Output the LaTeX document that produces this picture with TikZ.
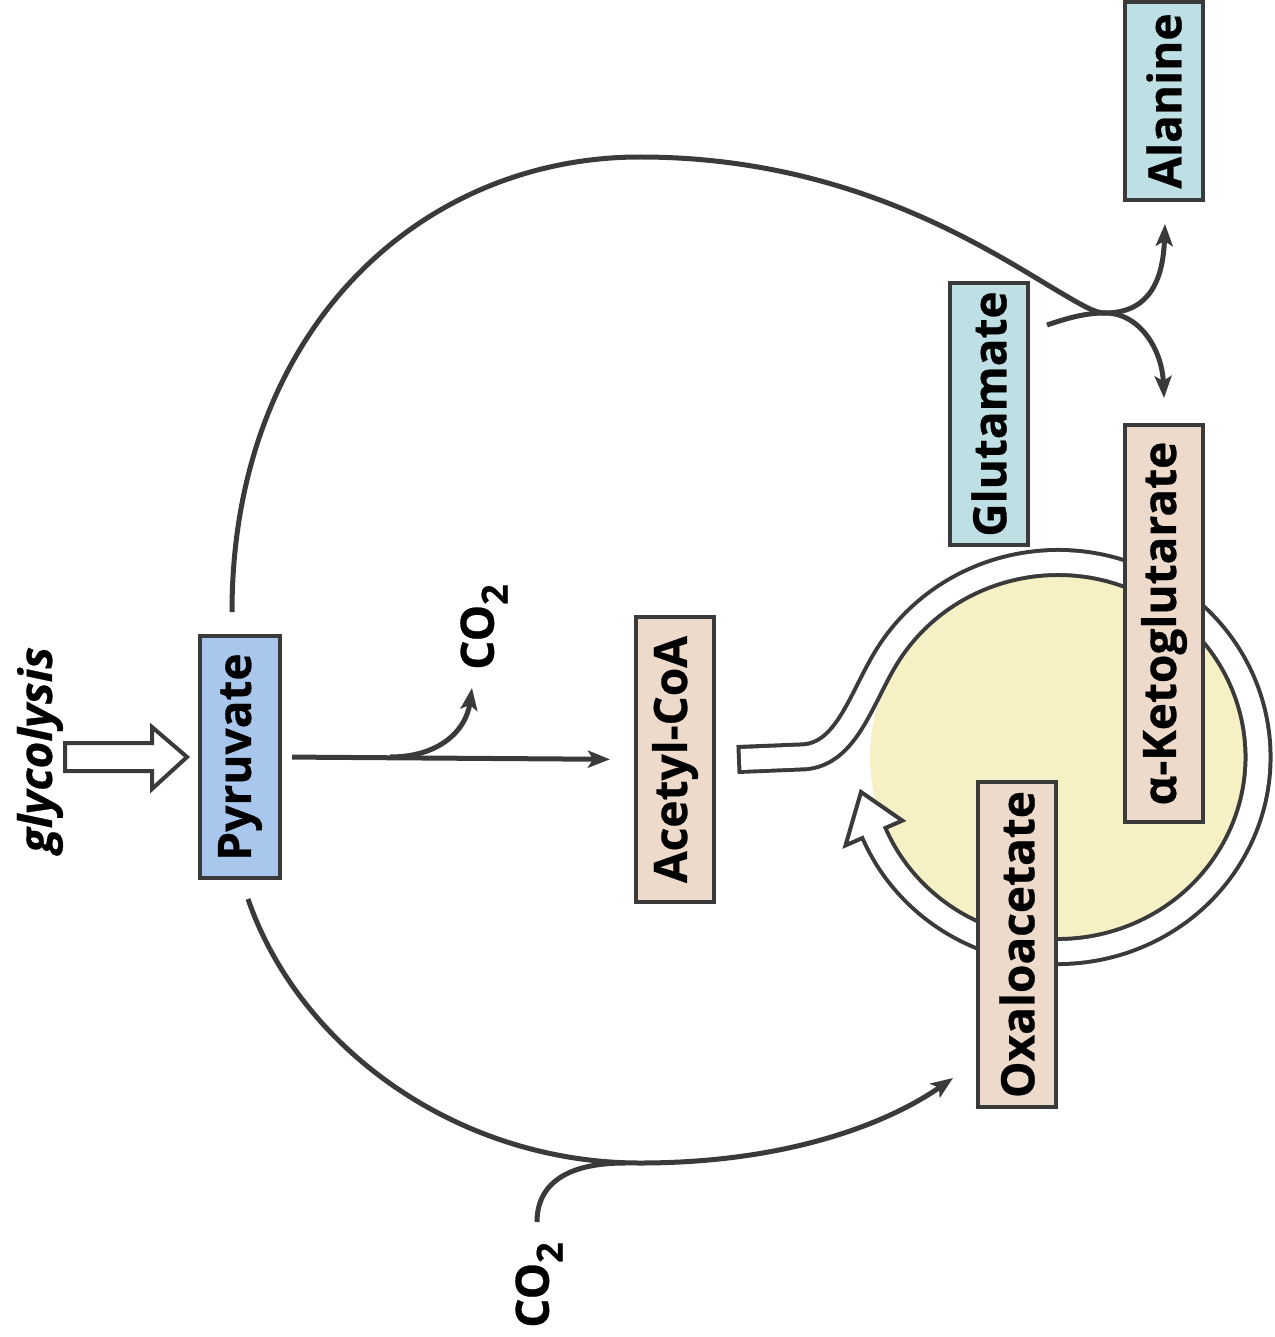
\documentclass[tikz,border=0pt]{standalone}
\usepackage{fontspec}
\setmainfont{Open Sans}[BoldFeatures={FakeBold=0.6}, BoldItalicFeatures={FakeBold=0.6}]
\usetikzlibrary{arrows.meta,calc}

\definecolor{linegray}{HTML}{3A3A3A}
\definecolor{pyrblue}{HTML}{A9C7EC}
\definecolor{aminoblue}{HTML}{BEE0E4}
\definecolor{metabtan}{HTML}{EEDACB}
\definecolor{cyclefill}{HTML}{F6F0C5}

\newcommand\lowtwo{\raisebox{-0.55ex}{\fontsize{36}{36}\selectfont 2}}

\tikzset{
  metab/.style={draw=linegray, line width=4pt, rotate=90, inner sep=0pt,
    minimum height=78pt, text=black,
    font=\fontsize{46}{50}\selectfont\bfseries},
  lbl/.style={rotate=90, inner sep=0pt, text=black,
    font=\fontsize{46}{50}\selectfont\bfseries},
  flow/.style={draw=linegray, line width=5pt,
    -{Stealth[length=22pt,width=17pt,inset=5pt]}},
  plainline/.style={draw=linegray, line width=5pt},
  hollow/.style={fill=white, draw=linegray, line width=4pt, line join=miter},
}

\begin{document}
\begin{tikzpicture}[x=1pt,y=1pt]
\useasboundingbox (0,0) rectangle (1274,-1337);

% metabolites outside the cycle
\node[metab, fill=pyrblue, minimum width=242pt, minimum height=80pt] (pyr) at (240,-757) {Pyruvate};
\node[metab, fill=metabtan, minimum width=285pt] (acetyl) at (675,-759.5) {Acetyl-CoA};
\node[metab, fill=aminoblue, minimum width=262pt] (glut) at (989,-414) {Glutamate};
\node[metab, fill=aminoblue, minimum width=198pt] (alan) at (1164,-101) {Alanine};

% interior of the citric acid cycle
\fill[cyclefill] (1058,-757) ellipse [x radius=188, y radius=182];

% hollow channel: wall, arrowhead, then the white core
\draw[linegray, line width=29pt] ($(acetyl.south)+(21,0)$) -- (800,-757)
  .. controls (845,-757) and (859.3,-702.75) .. (884.8,-659.75)
  arc[start angle=150, end angle=-157, x radius=200, y radius=194.5];
\draw[hollow] (845.5,-845.4) -- (861,-792) -- (902.3,-820.6) -- cycle;
\draw[white, line width=21pt] ($(acetyl.south)+(25,0)$) -- (800,-757)
  .. controls (845,-757) and (859.3,-702.75) .. (884.8,-659.75)
  arc[start angle=150, end angle=-158.5, x radius=200, y radius=194.5];

% metabolites sitting on the cycle
\node[metab, fill=metabtan, minimum width=397pt] (akg) at (1164,-623.5) {α-Ketoglutarate};
\node[metab, fill=metabtan, minimum width=325pt] (oxalo) at (1017,-944.5) {Oxaloacetate};

% labels
\node[lbl, font=\fontsize{46}{50}\selectfont\bfseries\itshape] (glyc) at (40,-750) {glycolysis};
\node[lbl] (co2a) at (484,-627) {CO\lowtwo};
\node[lbl] (co2b) at (539,-1285) {CO\lowtwo};

% glycolysis input arrow
\draw[hollow] (65,-743) -- (152,-743) -- (152,-727) -- ($(pyr.north)+(-11,0)$)
  -- (152,-789) -- (152,-771) -- (65,-771) -- cycle;

% pyruvate dehydrogenase
\draw[flow, shorten <=10pt, shorten >=24pt] (pyr.south) -- (acetyl.north);
\coordinate (split) at (390,-757);
\draw[flow] (split) .. controls (440,-757) and (466,-730) .. ($(co2a.center)+(-12,-61)$);

% transamination branch
\coordinate (junc) at (1105,-313);
\draw[flow] ($(pyr.east)+(-8,22)$) .. controls (232,-330) and (420,-157) .. (640,-157)
  .. controls (860,-157) and (1000,-258) .. (1068,-297)
  .. controls (1090,-310) and (1098,-313) .. (junc)
  .. controls (1148,-313) and (1163,-282) .. ($(alan.west)+(1,-22)$);
\draw[flow] ($(glut.south)+(17,89)$) .. controls (1068,-318) and (1085,-313) .. (junc)
  .. controls (1140,-313) and (1162,-350) .. ($(akg.east)+(0,25)$);

% pyruvate carboxylase
\draw[flow] ($(pyr.west)+(8,-19)$) .. controls (300,-1050) and (460,-1163) .. (640,-1163)
  .. controls (790,-1163) and (890,-1122) .. ($(oxalo.north)+(-23,-133.5)$);
\draw[plainline] ($(co2b.center)+(-2,63)$) .. controls (537,-1185) and (565,-1163) .. (625,-1163);

\end{tikzpicture}
\end{document}
